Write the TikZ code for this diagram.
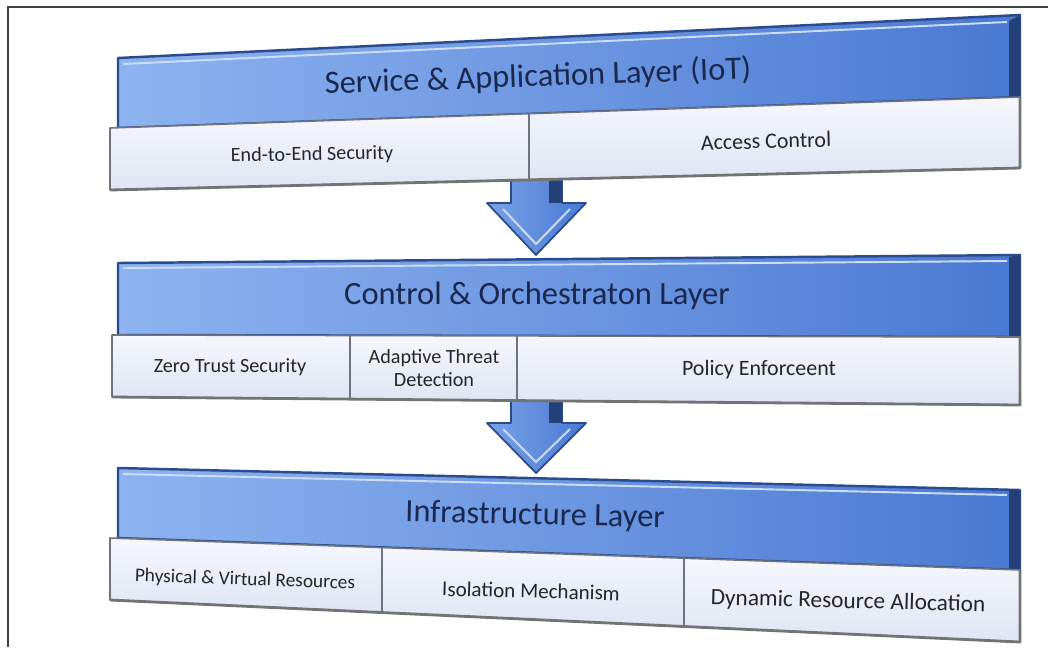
\documentclass[tikz,border=0pt]{standalone}
\usepackage{fontspec}
\setmainfont{Carlito}
\definecolor{layernavy}{HTML}{2A4B8D}
\definecolor{layerlight}{HTML}{8DB3F0}
\definecolor{layerdark}{HTML}{4A79D2}
\definecolor{cellfill}{HTML}{DFE5F4}
\definecolor{celledge}{HTML}{6E737D}
\definecolor{titleink}{HTML}{1A2850}
\tikzset{
  frame/.style     = {draw=black!75, line width=0.6pt},
  hdr/.style       = {draw=layernavy, line width=1.4pt, line join=round, left color=layerlight, right color=layerdark},
  bevel/.style     = {fill=layernavy!85!black},
  shine/.style     = {draw=white!55!layerlight, line width=1.1pt},
  cell/.style      = {draw=celledge, line width=0.9pt, line join=round, top color=white!70!cellfill, bottom color=cellfill},
  cellshade/.style = {draw=black!55, line width=1.6pt, line join=round},
  hdrtxt/.style    = {font=\fontsize{18.5}{21}\selectfont, text=titleink, inner sep=0},
  celltxt/.style   = {font=\fontsize{11.5}{13}\selectfont, text=black!85, inner sep=0, align=center},
  bigtxt/.style    = {celltxt, font=\fontsize{12.5}{14}\selectfont}
}
\tikzset{downarrow/.style = {draw=layernavy, line width=1pt, line join=round, left color=layerlight!70!layerdark, right color=layerdark}}
\begin{document}
\begin{tikzpicture}[x=0.02cm, y=-0.02cm]
  \useasboundingbox (0,0) rectangle (1048,647);
  \draw[frame] (8,647) -- (8,7) -- (1048,7);

  \draw[downarrow] (511,170) -- (511,203) -- (487,203) -- (536,255) -- (586,203) -- (562,203) -- (562,170) -- cycle;
  \fill[bevel] (549,170) rectangle (562,203);
  \draw[shine] (503,209) -- (536,244) -- (570,209);
  \draw[downarrow] (511,392) -- (511,423) -- (487,423) -- (536,473) -- (586,423) -- (562,423) -- (562,392) -- cycle;
  \fill[bevel] (549,392) rectangle (562,423);
  \draw[shine] (503,429) -- (536,462) -- (570,429);

  \draw[hdr] (118,58) -- (1020,15) -- (1020,97) -- (118,128) -- cycle;
  \fill[bevel] (1009,21) -- (1020,15) -- (1020,97) -- (1009,97.4) -- cycle;
  \draw[shine] (123,64) -- (1007,22);
  \draw[cell] (110,128) -- (529,113.7) -- (529,179.9) -- (110,190) -- cycle;
  \draw[cell] (529,113.7) -- (1020,97) -- (1020,168) -- (529,179.9) -- cycle;
  \draw[cellshade] (110,190) -- (1020,168) -- (1020,97);
  \node[hdrtxt, rotate=2] (svc) at (538,77) {Service \& Application Layer (IoT)};
  \node[celltxt, rotate=1] (e2e) at (312,155) {End-to-End Security};
  \node[bigtxt, rotate=1.5] (acc) at (766,141) {Access Control};

  \draw[hdr] (118,263) -- (1020,255) -- (1020,337) -- (118,335) -- cycle;
  \fill[bevel] (1009,257) -- (1020,255) -- (1020,337) -- (1009,337) -- cycle;
  \draw[shine] (123,268) -- (1007,261);
  \draw[cell] (112,335) -- (350,335.5) -- (350,399.1) -- (112,397) -- cycle;
  \draw[cell] (350,335.5) -- (517,335.9) -- (517,400.6) -- (350,399.1) -- cycle;
  \draw[cell] (517,335.9) -- (1020,337) -- (1020,405) -- (517,400.6) -- cycle;
  \draw[cellshade] (112,397) -- (1020,405) -- (1020,337);
  \node[hdrtxt] (ctl) at (537,296) {Control \& Orchestraton Layer};
  \node[celltxt] (zts) at (230,367) {Zero Trust Security};
  \node[celltxt] (atd) at (434,368) {Adaptive Threat\\Detection};
  \node[bigtxt] (pol) at (759,370) {Policy Enforceent};

  \draw[hdr] (118,468) -- (1020,490) -- (1020,570) -- (118,538) -- cycle;
  \fill[bevel] (1009,489.7) -- (1020,490) -- (1020,570) -- (1009,569.6) -- cycle;
  \draw[shine] (123,474) -- (1007,495);
  \draw[cell] (110,538) -- (382,547.6) -- (382,612.5) -- (110,600) -- cycle;
  \draw[cell] (382,547.6) -- (684,558.2) -- (684,626.5) -- (382,612.5) -- cycle;
  \draw[cell] (684,558.2) -- (1020,570) -- (1020,642) -- (684,626.5) -- cycle;
  \draw[cellshade] (110,600) -- (1020,642) -- (1020,570);
  \node[hdrtxt, rotate=-1.2] (infra) at (535,516) {Infrastructure Layer};
  \node[celltxt, font=\fontsize{11}{13}\selectfont, rotate=-2] (phy) at (245,580) {Physical \& Virtual Resources};
  \node[celltxt, font=\fontsize{12}{14}\selectfont, rotate=-1.5] (iso) at (531,591) {Isolation Mechanism};
  \node[celltxt, font=\fontsize{13.3}{15}\selectfont, rotate=-1.5] (dyn) at (848,602) {Dynamic Resource Allocation};
\end{tikzpicture}
\end{document}
